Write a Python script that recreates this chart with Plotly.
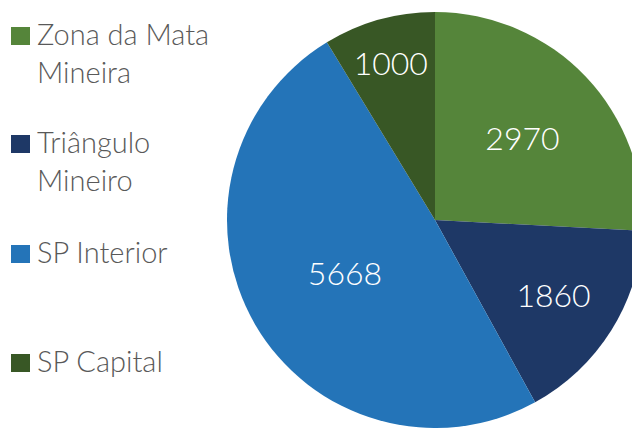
import plotly.graph_objects as go

labels = ["Zona da Mata<br>Mineira", "Triângulo<br>Mineiro", "SP Interior", "SP Capital"]
values = [2970, 1860, 5668, 1000]
colors = ["#55853A", "#1E3866", "#2474B8", "#385725"]
legend_y = [36, 144, 254, 363]  # vertical position (px from top) of each legend entry's first line

W, H = 660, 428

fig = go.Figure()
fig.add_trace(go.Pie(
    labels=labels, values=values, sort=False, direction="clockwise", rotation=0,
    marker=dict(colors=colors, line=dict(width=0)),
    textinfo="value", textposition="inside", insidetextorientation="horizontal",
    textfont=dict(family="Lato", size=32, color="white", weight=300),
    domain=dict(x=[227 / W, 643 / W], y=[0, 416 / H]),
    showlegend=False, hoverinfo="label+value",
))

for lab, col, yy in zip(labels, colors, legend_y):
    fig.add_shape(type="rect", xref="paper", yref="paper",
                  x0=11 / W, x1=30 / W, y0=1 - (yy + 9) / H, y1=1 - (yy - 9) / H,
                  fillcolor=col, line=dict(width=0))
    fig.add_annotation(text=lab, xref="paper", yref="paper", x=35 / W, y=1 - (yy - 22) / H,
                       xanchor="left", yanchor="top", showarrow=False, align="left",
                       font=dict(family="Lato", size=29, color="#595959", weight=300))

fig.update_layout(width=W, height=H, margin=dict(l=0, r=0, t=0, b=0),
                  paper_bgcolor="white", plot_bgcolor="white")

fig.write_html("out.html", config={"displayModeBar": False},
               post_script="document.body.style.margin='0';document.body.style.overflow='hidden';")
